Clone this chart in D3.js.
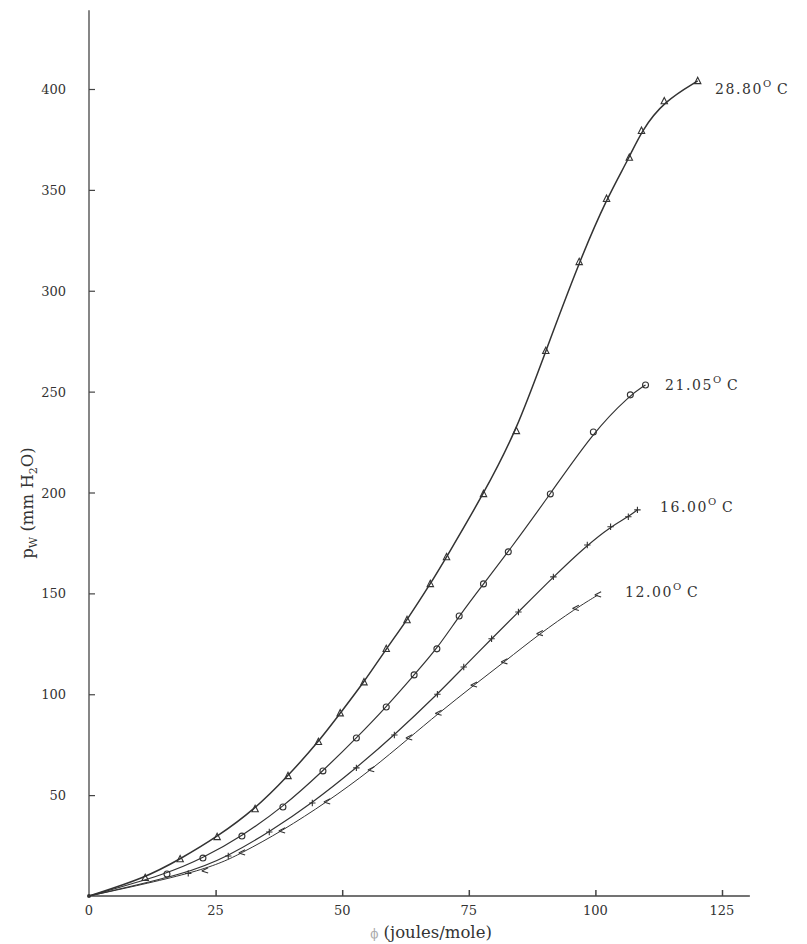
<!DOCTYPE html>
<html>
<head>
<meta charset="utf-8">
<script src="https://cdn.jsdelivr.net/npm/d3@7"></script>
<style>
  body { margin: 0; background: #fff; }
  svg { display: block; }
  text { font-family: "DejaVu Serif", "Liberation Serif", serif; fill: #333; }
</style>
</head>
<body>
<svg id="chart" width="807" height="944"></svg>
<script>
  // phi (joules/mole) vs p_w (mm H2O), one series per temperature
  var phi28 = [0, 11.1, 18.0, 25.3, 32.8, 39.3, 45.3, 49.6, 54.3, 58.7, 62.8, 67.4, 70.6, 77.9, 84.4, 90.2, 96.8, 102.2, 106.7, 109.1, 113.6, 120.2];
  var pw28  = [0, 9.0, 18.3, 29.3, 43.1, 59.5, 76.4, 90.6, 106.0, 122.5, 136.8, 154.7, 168.0, 199.3, 230.5, 270.2, 314.3, 345.6, 366.0, 379.3, 394.0, 404.0];

  var phi21 = [0, 15.4, 22.5, 30.2, 38.3, 46.2, 52.8, 58.7, 64.2, 68.7, 73.1, 77.9, 82.8, 91.1, 99.6, 106.9, 109.9];
  var pw21  = [0, 10.9, 18.8, 29.7, 44.1, 62.0, 78.3, 93.7, 109.6, 122.5, 138.8, 154.7, 170.6, 199.3, 230.0, 248.4, 253.3];

  var phi16 = [0, 19.6, 27.5, 35.6, 44.1, 52.8, 60.3, 68.8, 74.0, 79.5, 84.8, 91.7, 98.4, 103.0, 106.5, 108.3];
  var pw16  = [0, 11.2, 19.8, 31.7, 46.1, 63.5, 79.8, 100.0, 113.5, 127.5, 140.8, 158.2, 174.0, 183.0, 188.0, 191.4];

  var phi12 = [0, 22.9, 30.2, 38.1, 47.0, 55.7, 63.2, 69.0, 76.0, 82.0, 89.0, 96.1, 100.5];
  var pw12  = [0, 12.4, 21.3, 32.2, 46.6, 62.5, 78.3, 90.5, 104.5, 116.0, 130.0, 142.5, 149.2];

  var temps   = ["28.80", "21.05", "16.00", "12.00"];
  var markers = ["triangle", "circle", "plus", "cross"];

  var xTicks = [0, 25, 50, 75, 100, 125];
  var yTicks = [50, 100, 150, 200, 250, 300, 350, 400];

  var series = [
    { t: temps[0], m: markers[0], xs: phi28, ys: pw28, w: 1.5, lx: 715, ly: 94 },
    { t: temps[1], m: markers[1], xs: phi21, ys: pw21, w: 1.2, lx: 665, ly: 390 },
    { t: temps[2], m: markers[2], xs: phi16, ys: pw16, w: 1.2, lx: 660, ly: 512 },
    { t: temps[3], m: markers[3], xs: phi12, ys: pw12, w: 1.0, lx: 625, ly: 597 }
  ];

  var svg = d3.select("#chart");

  var x = d3.scaleLinear().domain([0, 125]).range([89, 722]);
  var y = d3.scaleLinear().domain([0, 400]).range([896, 89]);

  var axisColor = "#444";

  // axis lines
  svg.append("line")
      .attr("x1", x(0)).attr("x2", x(0))
      .attr("y1", y(0)).attr("y2", y(439))
      .attr("stroke", axisColor).attr("stroke-width", 1.3);
  svg.append("line")
      .attr("x1", x(0)).attr("x2", x(130.5))
      .attr("y1", y(0)).attr("y2", y(0))
      .attr("stroke", axisColor).attr("stroke-width", 1.3);

  // ticks point inward
  var yAxis = d3.axisRight(y).tickValues(yTicks).tickSize(6).tickFormat("");
  svg.append("g").attr("transform", "translate(" + x(0) + ",0)").call(yAxis)
      .call(function (g) { g.select(".domain").remove(); })
      .selectAll("line").attr("stroke", axisColor).attr("stroke-width", 1.2);

  var xAxis = d3.axisTop(x).tickValues(xTicks.slice(1)).tickSize(6).tickFormat("");
  svg.append("g").attr("transform", "translate(0," + y(0) + ")").call(xAxis)
      .call(function (g) { g.select(".domain").remove(); })
      .selectAll("line").attr("stroke", axisColor).attr("stroke-width", 1.5);

  svg.selectAll("text.ytick").data(yTicks).enter()
      .append("text").attr("class", "ytick")
      .attr("x", 66).attr("y", function (d) { return y(d) + 5; })
      .attr("text-anchor", "end")
      .attr("font-size", 13)
      .text(function (d) { return d; });

  svg.selectAll("text.xtick").data(xTicks).enter()
      .append("text").attr("class", "xtick")
      .attr("x", function (d) { return x(d); }).attr("y", 915)
      .attr("text-anchor", "middle")
      .attr("font-size", 13)
      .text(function (d) { return d; });

  // axis titles
  var xt = svg.append("text").attr("x", 431).attr("y", 938)
      .attr("text-anchor", "middle").attr("font-size", 16.5);
  xt.append("tspan").attr("font-size", 12).style("fill", "#aaa").text("ϕ");
  xt.append("tspan").text(" (joules/mole)");

  var yt = svg.append("text")
      .attr("transform", "translate(33,503) rotate(-90)")
      .attr("text-anchor", "middle").attr("font-size", 16.5);
  yt.append("tspan").text("p");
  yt.append("tspan").attr("font-size", 11).attr("dy", 4).text("W");
  yt.append("tspan").attr("dy", -4).text(" (mm H");
  yt.append("tspan").attr("font-size", 11).attr("dy", 4).text("2");
  yt.append("tspan").attr("dy", -4).text("O)");

  // smooth, drawn-by-hand looking curves
  var line = d3.line()
      .x(function (d) { return x(d[0]); })
      .y(function (d) { return y(d[1]); })
      .curve(d3.curveBasis);

  function markerPath(type) {
    var s = 3.2;
    if (type === "triangle") return "M0," + (-s - 0.5) + "L" + s + "," + (s - 0.5) + "L" + (-s) + "," + (s - 0.5) + "Z";
    if (type === "circle") return d3.symbol(d3.symbolCircle, 28)();
    if (type === "plus") return "M" + (-s) + ",0L" + s + ",0M0," + (-s) + "L0," + s;
    return "M" + (-s) + ",0L" + s + "," + (-s) + "M" + (-s) + ",0L" + s + "," + s * 0.6;
  }

  series.forEach(function (s) {
    var pts = s.xs.map(function (v, i) { return [v, s.ys[i]]; });

    svg.append("path")
        .datum(pts)
        .attr("fill", "none")
        .attr("stroke", "#333")
        .attr("stroke-width", s.w)
        .attr("d", line);

    svg.selectAll(null).data(pts.slice(1)).enter()
        .append("path")
        .attr("transform", function (d) { return "translate(" + x(d[0]) + "," + y(d[1]) + ")"; })
        .attr("d", markerPath(s.m))
        .attr("fill", "none")
        .attr("stroke", "#333")
        .attr("stroke-width", 1.1);

    var lab = svg.append("text")
        .attr("x", s.lx).attr("y", s.ly)
        .attr("font-size", 14)
        .attr("letter-spacing", 1.6);
    lab.append("tspan").text(s.t);
    lab.append("tspan").attr("font-size", 10).attr("dy", -7).text("O");
    lab.append("tspan").attr("dy", 7).attr("dx", 4).text("C");
  });

  // small blob at origin
  svg.append("circle").attr("cx", x(0)).attr("cy", y(0)).attr("r", 2).attr("fill", "#333");
</script>
</body>
</html>
